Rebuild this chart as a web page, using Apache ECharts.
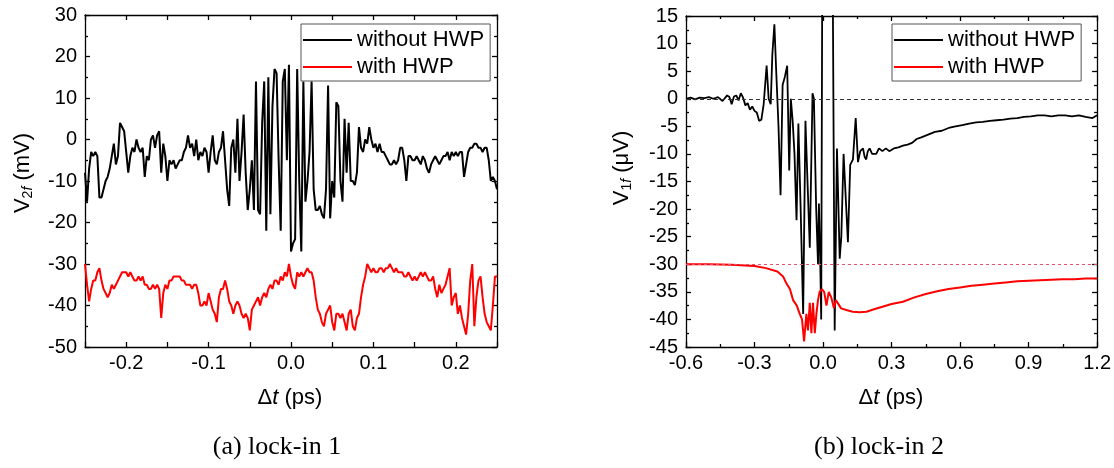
<!DOCTYPE html>
<html><head><meta charset="utf-8">
<script src="https://cdn.jsdelivr.net/npm/echarts@6/dist/echarts.min.js"></script>
<style>html,body{margin:0;padding:0;background:#fff}#c{width:1114px;height:468px}</style>
</head><body><div id="c"></div>
<script>
// ---- Data ----
const seriesNames = ['without HWP', 'with HWP'];
// (a) lock-in 1 : sampled every 0.0025 ps from -0.25 ps
const leftStart = -0.25, leftStep = 0.0025;
const leftWithout = [
 -8,-15,-7,-3,-4,-3,-4,-14,-14,-12,
 -10,-9,-7,-4,-1,-6,-4,4,3,2,
 -3,-8,-4,-2,-3,0,-2,-3,-2,-9,
 -4,-5,0,1,-2,1,2,-8,-1,-4,
 -10,-5,-6,-5,-7,-6,-5,-5,-3,-2,
 1,-2,-1,-4,0,-5,-3,-4,-2,-3,
 -8,-3,1,-5,-6,-3,-2,2,-5,-12,
 -16,-2,0,-8,5,-10,-3,6,-8,-17,
 -12,-5,-17,14,-17,-18,4,14,-22,15,
 -18,8,17,16,-5,-22,14,17,-5,18,
 -27,-25,-24,17,-10,-27,14,-15,-10,-3,
 14,-12,-17,-17,-16,-18,-19,-12,13,-19,
 -10,-14,9,8,-10,-15,5,-8,4,-10,
 -10,-11,-8,3,-2,-3,0,-1,3,0,
 -2,-1,-3,-1,-3,-3,-4,-5,-6,-6,
 -5,-6,-5,-2,-2,-5,-10,-4,-4,-5,
 -5,-4,-5,-6,-4,-5,-7,-8,-6,-5,
 -4,-5,-6,-5,-4,-4,-3,-5,-3,-4,
 -3,-4,-3,-3,-9,-6,-3,-2,-2,-1,
 -1,-2,-2,-3,-2,-2,-5,-10,-9,-10,
 -12
];
const leftWith = [
 -30,-35,-39,-36,-34,-34,-32,-31,-34,-36,
 -37,-38,-37,-35,-36,-35,-34,-33,-32,-32,
 -32,-33,-32,-33,-34,-34,-33,-34,-33,-35,
 -35,-36,-36,-35,-36,-35,-36,-43,-37,-35,
 -36,-34,-34,-33,-33,-33,-33,-34,-34,-35,
 -35,-35,-36,-35,-35,-37,-40,-40,-39,-40,
 -37,-39,-41,-42,-44,-38,-36,-36,-34,-36,
 -39,-40,-42,-40,-39,-40,-42,-43,-42,-43,
 -46,-41,-40,-39,-38,-40,-38,-37,-38,-36,
 -35,-36,-34,-34,-35,-33,-34,-32,-33,-30,
 -33,-35,-36,-32,-33,-32,-33,-32,-31,-32,
 -32,-34,-38,-41,-42,-44,-45,-42,-41,-40,
 -44,-46,-42,-42,-43,-42,-44,-46,-42,-41,
 -45,-46,-43,-42,-38,-35,-33,-30,-31,-32,
 -31,-32,-32,-31,-31,-32,-31,-31,-30,-31,
 -32,-31,-32,-32,-32,-33,-33,-32,-33,-34,
 -33,-34,-33,-32,-33,-32,-33,-34,-34,-33,
 -36,-38,-35,-37,-36,-35,-33,-31,-40,-38,
 -37,-42,-40,-43,-45,-47,-42,-34,-30,-45,
 -38,-34,-33,-38,-42,-44,-45,-46,-40,-33,
 -33
];
// (b) lock-in 2
const rightWithoutT = [
 -0.60,-0.58,-0.56,-0.54,-0.52,-0.50,-0.48,-0.46,-0.44,-0.42,
 -0.41,-0.40,-0.39,-0.38,-0.37,-0.36,-0.35,-0.34,-0.33,-0.32,
 -0.31,-0.30,-0.29,-0.28,-0.27,-0.26,-0.247,-0.238,-0.229,-0.222,
 -0.213,-0.205,-0.195,-0.186,-0.177,-0.167,-0.157,-0.148,-0.141,-0.133,
 -0.125,-0.116,-0.108,-0.098,-0.087,-0.077,-0.068,-0.058,-0.046,-0.040,
 -0.030,-0.022,-0.018,-0.012,-0.008,-0.002,0.020,0.040,0.051,0.061,
 0.073,0.080,0.090,0.109,0.119,0.131,0.143,0.153,0.163,0.175,
 0.182,0.189,0.196,0.204,0.215,0.233,0.245,0.260,0.275,0.290,
 0.31,0.33,0.35,0.37,0.39,0.41,0.43,0.46,0.49,0.52,
 0.55,0.58,0.61,0.64,0.67,0.70,0.73,0.76,0.79,0.82,
 0.85,0.88,0.91,0.94,0.97,1.00,1.03,1.06,1.09,1.12,
 1.15,1.18,1.20
];
const rightWithoutV = [
 0,0.2,-0.1,0.2,0.1,0.3,0,0.3,-0.4,0.6,
 0.3,-1,0.4,0.6,-0.3,1,0.2,-1.2,-0.8,-2,
 -1.4,-2.2,-2.5,-4,-3.8,-1,6,0,-1,8,
 13.5,5,-5,-17.5,2.5,4,6,-13,0,-4,
 -10,-22,-4.5,-20,-39,-4,-15,-27,1,0,
 -20,-30,-19,-30,-40,40,40,40,-42,-9,
 -29,-25,-10,-26,-12,-11,-3.5,-11.5,-9.5,-9,
 -10.5,-11,-9.5,-9,-10,-10,-9,-9.5,-9,-9.5,
 -9,-8.8,-8.5,-8.3,-8,-7.3,-7,-6.5,-6,-5.8,
 -5.3,-5,-4.8,-4.5,-4.3,-4.2,-4,-3.9,-3.8,-3.6,
 -3.5,-3.3,-3.2,-3,-3,-3.2,-3,-3,-3.2,-3,
 -3.3,-3.5,-3
];
const rightWithT = [
 -0.60,-0.50,-0.40,-0.30,-0.25,-0.20,-0.175,-0.16,-0.145,-0.131,
 -0.115,-0.102,-0.092,-0.083,-0.073,-0.066,-0.058,-0.051,-0.044,-0.036,
 -0.029,-0.022,-0.015,-0.005,0.005,0.015,0.025,0.036,0.048,0.056,
 0.064,0.079,0.102,0.13,0.16,0.19,0.22,0.26,0.30,0.35,
 0.40,0.45,0.50,0.55,0.60,0.65,0.70,0.75,0.80,0.85,
 0.90,0.95,1.00,1.05,1.10,1.15,1.20
];
const rightWithV = [
 -30,-30,-30.1,-30.3,-30.7,-31.3,-32.2,-33.5,-34.5,-36.5,
 -37.5,-39,-40,-44,-39,-42,-37,-42.5,-37,-42.5,
 -39,-36.5,-35,-34.5,-35,-37.5,-35,-36,-38,-36.5,
 -37,-38,-38.3,-38.6,-38.7,-38.6,-38.2,-37.7,-37.2,-36.8,
 -36,-35.4,-34.9,-34.5,-34.2,-33.9,-33.7,-33.5,-33.3,-33.1,
 -33,-32.9,-32.8,-32.7,-32.7,-32.6,-32.6
];
const rightRefLines = [0, -30];
const captions = ['(a) lock-in 1', '(b) lock-in 2'];

// ---- Chart ----
const FONT = 'Liberation Sans';
const AX = {color: '#000', width: 1.3};
function axis(kind, grid, min, max, interval, pos, showLabel, fmt, minor) {
  return {
    type: 'value', gridIndex: grid, min: min, max: max, interval: interval, position: pos,
    axisLine: {onZero: false, lineStyle: AX},
    axisTick: {inside: true, length: 5, lineStyle: AX},
    minorTick: {show: minor, splitNumber: 2, length: 3, lineStyle: AX},
    splitLine: {show: false}, minorSplitLine: {show: false},
    axisLabel: {show: showLabel, formatter: fmt, margin: kind === 'x' ? 6 : 8,
      color: '#000', fontSize: 20, fontFamily: FONT}
  };
}
const fmtLeftX = v => { const k = Math.round(v * 100); return k % 10 === 0 ? (k / 100).toFixed(1) : ''; };
const fmtRightX = v => (Math.round(v * 10) / 10).toFixed(1);
const fmtY = v => String(Math.round(v));

const base = {fontFamily: FONT, fontSize: 22, fill: '#000'};
function txt(x, y, rot, text, rich, extra) {
  return {type: 'text', x: x, y: y, rotation: rot, silent: true,
    style: Object.assign({text: text, rich: rich, align: 'center', verticalAlign: 'middle',
      textAlign: 'center', textVerticalAlign: 'middle'}, base, extra || {})};
}
const richY = {
  v: {fontFamily: FONT, fontSize: 22, color: '#000'},
  s: {fontFamily: FONT, fontSize: 14, color: '#000', padding: [10, 0, 0, 0]},
  f: {fontFamily: FONT, fontSize: 14, fontStyle: 'italic', color: '#000', padding: [10, 0, 0, 0]}
};
const richX = {
  v: {fontFamily: FONT, fontSize: 22, color: '#000'},
  i: {fontFamily: FONT, fontSize: 22, fontStyle: 'italic', color: '#000'}
};

const legendCommon = {
  data: seriesNames, orient: 'vertical', top: 24, icon: 'rect', itemWidth: 49, itemHeight: 2, itemGap: 5,
  padding: [5, 6, 3, 2], borderColor: '#555', borderWidth: 1, backgroundColor: '#fff',
  textStyle: {fontSize: 22, fontFamily: FONT, color: '#000', lineHeight: 22},
  selectedMode: false
};

const chart = echarts.init(document.getElementById('c'), null, {renderer: 'canvas'});
chart.setOption({
  animation: false,
  backgroundColor: '#fff',
  grid: [
    {left: 85, top: 15, width: 412, height: 332},
    {left: 686, top: 16, width: 412, height: 331}
  ],
  xAxis: [
    axis('x', 0, -0.25, 0.25, 0.05, 'bottom', true, fmtLeftX, false),
    axis('x', 0, -0.25, 0.25, 0.05, 'top', false, fmtLeftX, false),
    axis('x', 1, -0.6, 1.2, 0.3, 'bottom', true, fmtRightX, true),
    axis('x', 1, -0.6, 1.2, 0.3, 'top', false, fmtRightX, true)
  ],
  yAxis: [
    axis('y', 0, -50, 30, 10, 'left', true, fmtY, true),
    axis('y', 0, -50, 30, 10, 'right', false, fmtY, true),
    axis('y', 1, -45, 15, 5, 'left', true, fmtY, true),
    axis('y', 1, -45, 15, 5, 'right', false, fmtY, true)
  ],
  legend: [
    Object.assign({left: 301}, legendCommon),
    Object.assign({left: 892}, legendCommon)
  ],
  series: [
    {type: 'line', name: seriesNames[0], xAxisIndex: 0, yAxisIndex: 0, symbol: 'none',
     data: leftWithout.map((v, i) => [leftStart + i * leftStep, v]),
     lineStyle: {color: '#000', width: 2}, itemStyle: {color: '#000'}},
    {type: 'line', name: seriesNames[1], xAxisIndex: 0, yAxisIndex: 0, symbol: 'none',
     data: leftWith.map((v, i) => [leftStart + i * leftStep, v]),
     lineStyle: {color: '#ff0000', width: 2}, itemStyle: {color: '#ff0000'}},
    {type: 'line', name: seriesNames[0], xAxisIndex: 2, yAxisIndex: 2, symbol: 'none',
     data: rightWithoutT.map((t, i) => [t, rightWithoutV[i]]),
     lineStyle: {color: '#000', width: 1.8}, itemStyle: {color: '#000'},
     markLine: {silent: true, symbol: 'none', label: {show: false},
       lineStyle: {color: '#333', type: [4, 3], width: 1}, data: [{yAxis: rightRefLines[0]}]}},
    {type: 'line', name: seriesNames[1], xAxisIndex: 2, yAxisIndex: 2, symbol: 'none',
     data: rightWithT.map((t, i) => [t, rightWithV[i]]),
     lineStyle: {color: '#ff0000', width: 2}, itemStyle: {color: '#ff0000'},
     markLine: {silent: true, symbol: 'none', label: {show: false},
       lineStyle: {color: '#e85070', type: [3, 3], width: 1}, data: [{yAxis: rightRefLines[1]}]}}
  ],
  graphic: [
    txt(23, 173, Math.PI / 2, '{v|V}{s|2}{f|f}{v| (mV)}', richY),
    txt(622, 168, Math.PI / 2, '{v|V}{s|1}{f|f}{v| (μV)}', richY),
    txt(290, 398, 0, '{v|Δ}{i|t}{v| (ps)}', richX),
    txt(891, 398, 0, '{v|Δ}{i|t}{v| (ps)}', richX),
    txt(277, 447, 0, captions[0], null, {fontFamily: 'Liberation Serif', fontSize: 26}),
    txt(879, 447, 0, captions[1], null, {fontFamily: 'Liberation Serif', fontSize: 26})
  ]
});
</script>
</body></html>
